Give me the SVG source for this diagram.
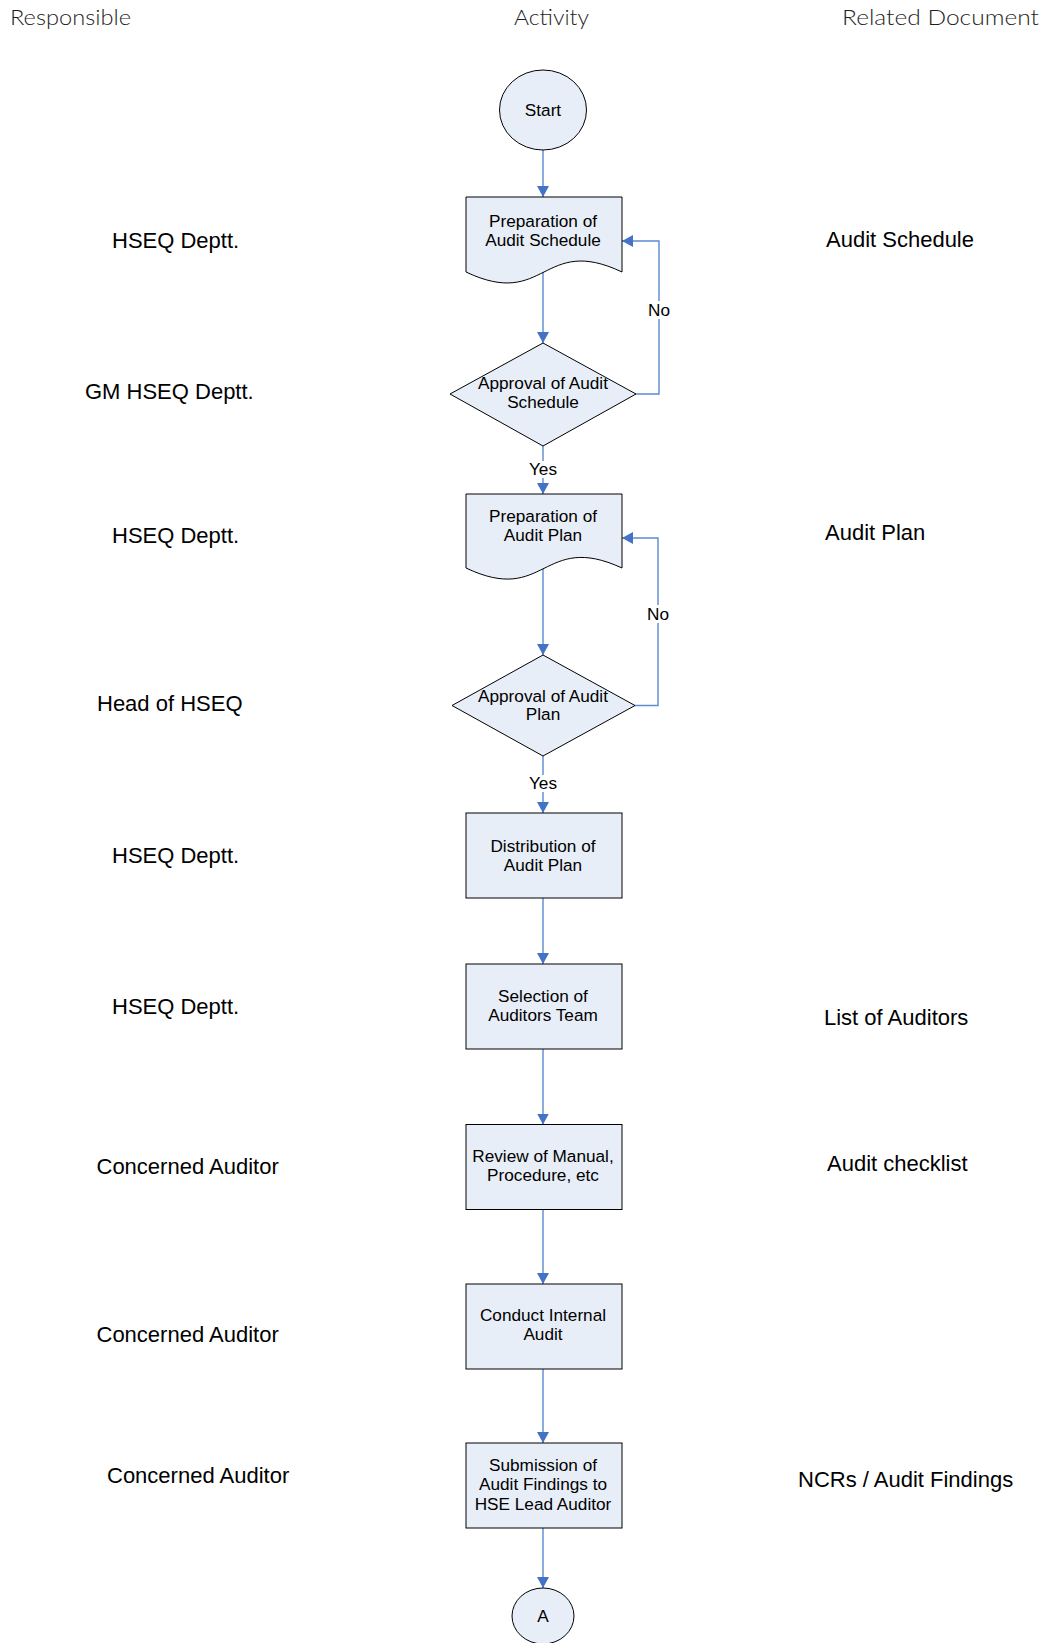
<svg xmlns="http://www.w3.org/2000/svg" width="1046" height="1643" viewBox="0 0 1046 1643">
<defs>
<marker id="arr" markerWidth="13" markerHeight="13" refX="11" refY="6.5" orient="auto" markerUnits="userSpaceOnUse">
<path d="M0,0.5 L11,6.5 L0,12.5 Z" fill="#4472C4"/>
</marker>
<style>
.hdr{font-family:"Lato","Open Sans","Liberation Sans",sans-serif;font-weight:300;font-size:21px;fill:#1e1e1e}
.side{font-family:"Liberation Sans",Arial,sans-serif;font-size:22px;fill:#000}
.lbl{font-family:"Liberation Sans",Arial,sans-serif;font-size:17.2px;fill:#000;text-anchor:middle}
.shape{fill:#E8EEF7;stroke:#000;stroke-width:1}
.conn{fill:none;stroke:#5B8BD0;stroke-width:1.4}
.bg{fill:#fff}
</style>
</defs>
<rect width="1046" height="1643" fill="#fff"/>

<g id="headers">
<text class="hdr" x="10" y="25" textLength="121" lengthAdjust="spacingAndGlyphs">Responsible</text>
<text class="hdr" x="514" y="25" textLength="75" lengthAdjust="spacingAndGlyphs">Activity</text>
<text class="hdr" x="842" y="25" textLength="197" lengthAdjust="spacingAndGlyphs">Related Document</text>
</g>

<g id="responsible">
<text class="side" x="112" y="247.5">HSEQ Deptt.</text>
<text class="side" x="85" y="398.5">GM HSEQ Deptt.</text>
<text class="side" x="112" y="543">HSEQ Deptt.</text>
<text class="side" x="97" y="710.5">Head of HSEQ</text>
<text class="side" x="112" y="862.5">HSEQ Deptt.</text>
<text class="side" x="112" y="1013.5">HSEQ Deptt.</text>
<text class="side" x="96.5" y="1173.5">Concerned Auditor</text>
<text class="side" x="96.5" y="1341.5">Concerned Auditor</text>
<text class="side" x="107" y="1483">Concerned Auditor</text>
</g>

<g id="documents">
<text class="side" x="826" y="247">Audit Schedule</text>
<text class="side" x="825" y="540">Audit Plan</text>
<text class="side" x="824" y="1025">List of Auditors</text>
<text class="side" x="827" y="1170.5">Audit checklist</text>
<text class="side" x="798" y="1487">NCRs / Audit Findings</text>
</g>

<g id="connectors">
<line class="conn" x1="543" y1="150" x2="543" y2="197" marker-end="url(#arr)"/>
<line class="conn" x1="543" y1="272" x2="543" y2="343" marker-end="url(#arr)"/>
<polyline class="conn" points="636,394 659,394 659,241 622,241" marker-end="url(#arr)"/>
<rect class="bg" x="648" y="301" width="22" height="18"/>
<text class="lbl" x="659" y="316">No</text>
<line class="conn" x1="543" y1="446" x2="543" y2="494" marker-end="url(#arr)"/>
<rect class="bg" x="527" y="461" width="32" height="17"/>
<text class="lbl" x="543" y="475">Yes</text>
<line class="conn" x1="543" y1="568" x2="543" y2="655" marker-end="url(#arr)"/>
<polyline class="conn" points="635,705.5 658,705.5 658,538 622,538" marker-end="url(#arr)"/>
<rect class="bg" x="647" y="605" width="22" height="18"/>
<text class="lbl" x="658" y="620">No</text>
<line class="conn" x1="543" y1="756" x2="543" y2="813" marker-end="url(#arr)"/>
<rect class="bg" x="527" y="775" width="32" height="17"/>
<text class="lbl" x="543" y="789">Yes</text>
<line class="conn" x1="543" y1="898" x2="543" y2="964" marker-end="url(#arr)"/>
<line class="conn" x1="543" y1="1049" x2="543" y2="1124.5" marker-end="url(#arr)"/>
<line class="conn" x1="543" y1="1209.5" x2="543" y2="1284" marker-end="url(#arr)"/>
<line class="conn" x1="543" y1="1369" x2="543" y2="1443" marker-end="url(#arr)"/>
<line class="conn" x1="543" y1="1528" x2="543" y2="1588" marker-end="url(#arr)"/>
</g>

<g id="start">
<ellipse class="shape" cx="543" cy="110" rx="43.5" ry="40"/>
<text class="lbl" x="543" y="115.5">Start</text>
</g>

<g id="prep-schedule">
<path class="shape" d="M466,197 L622,197 L622,272 C542,234 546,310 466,272 Z"/>
<text class="lbl" x="543" y="226.5">Preparation of</text>
<text class="lbl" x="543" y="245.5">Audit Schedule</text>
</g>

<g id="approve-schedule">
<polygon class="shape" points="543,343 636,394 543,446 450,394"/>
<text class="lbl" x="543" y="389">Approval of Audit</text>
<text class="lbl" x="543" y="408">Schedule</text>
</g>

<g id="prep-plan">
<path class="shape" d="M466,494 L622,494 L622,568 C542,531 546,606 466,568 Z"/>
<text class="lbl" x="543" y="521.5">Preparation of</text>
<text class="lbl" x="543" y="540.5">Audit Plan</text>
</g>

<g id="approve-plan">
<polygon class="shape" points="543,655 635,705.5 543,756 452,705.5"/>
<text class="lbl" x="543" y="701.5">Approval of Audit</text>
<text class="lbl" x="543" y="720">Plan</text>
</g>

<g id="distribution">
<rect class="shape" x="466" y="813" width="156" height="85"/>
<text class="lbl" x="543" y="851.5">Distribution of</text>
<text class="lbl" x="543" y="870.5">Audit Plan</text>
</g>

<g id="selection">
<rect class="shape" x="466" y="964" width="156" height="85"/>
<text class="lbl" x="543" y="1001.5">Selection of</text>
<text class="lbl" x="543" y="1021">Auditors Team</text>
</g>

<g id="review">
<rect class="shape" x="466" y="1124.5" width="156" height="85"/>
<text class="lbl" x="543" y="1162">Review of Manual,</text>
<text class="lbl" x="543" y="1181">Procedure, etc</text>
</g>

<g id="conduct">
<rect class="shape" x="466" y="1284" width="156" height="85"/>
<text class="lbl" x="543" y="1321">Conduct Internal</text>
<text class="lbl" x="543" y="1340">Audit</text>
</g>

<g id="submission">
<rect class="shape" x="466" y="1443" width="156" height="85"/>
<text class="lbl" x="543" y="1470.5">Submission of</text>
<text class="lbl" x="543" y="1490">Audit Findings to</text>
<text class="lbl" x="543" y="1509.5">HSE Lead Auditor</text>
</g>

<g id="connector-a">
<ellipse class="shape" cx="543" cy="1616" rx="31" ry="28"/>
<text class="lbl" x="543" y="1621.5">A</text>
</g>
</svg>
